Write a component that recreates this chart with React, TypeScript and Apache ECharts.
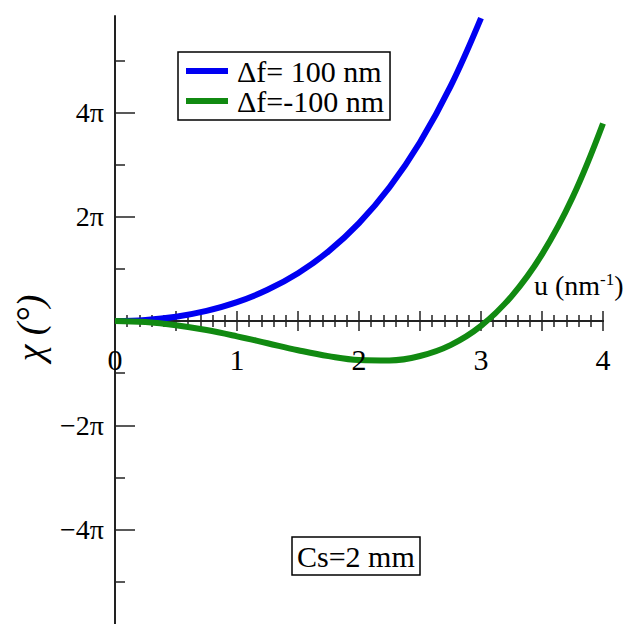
import React, { useEffect, useRef } from 'react';
import * as echarts from 'echarts';

// u in nm^-1, chi in units of pi
const uBlue = [0, 0.25, 0.5, 0.75, 1, 1.25, 1.5, 1.75, 2, 2.25, 2.5, 2.75, 3.0];
const chiBlue = [0, 0.021, 0.084, 0.196, 0.363, 0.599, 0.917, 1.336, 1.877, 2.565, 3.429, 4.499, 5.81];

const uGreen = [0, 0.25, 0.5, 0.75, 1, 1.25, 1.5, 1.75, 2, 2.25, 2.5, 2.75, 3, 3.25, 3.5, 3.75, 4];
const chiGreen = [0, -0.02, -0.08, -0.173, -0.293, -0.426, -0.559, -0.673, -0.747, -0.756, -0.671, -0.462, -0.093, 0.474, 1.279, 2.368, 3.789];

const seriesNames = ['Δf= 100 nm', 'Δf=-100 nm'];
const seriesColors = ['#0000f2', '#118a11'];

const xLabelValues = [0, 1, 2, 3, 4];
const yMajorTicks = [-4, -2, 0, 2, 4];
const yMinorTicks = [-5, -3, -1, 1, 3, 5];
const yLabelValues = [-4, -2, 2, 4];
const yTickLabels = ['−4π', '−2π', '2π', '4π'];

const FONT = "'Liberation Serif', 'Times New Roman', 'DejaVu Serif', serif";
const AX = '#222';

export default function App() {
  const ref = useRef<HTMLDivElement>(null);
  useEffect(() => {
    if (!ref.current) return;
    const chart = echarts.init(ref.current, undefined, { renderer: 'svg' });
    const xCommon = {
      type: 'value',
      min: 0,
      max: 4,
      interval: 0.5,
      splitLine: { show: false },
      minorSplitLine: { show: false },
      axisLabel: { show: false },
      axisLine: { onZero: true, onZeroAxisIndex: 0, lineStyle: { color: AX, width: 2 } },
      axisTick: { show: true, inside: false, length: 10, lineStyle: { color: AX, width: 1.5 } },
      minorTick: { show: true, splitNumber: 5, length: 6, lineStyle: { color: AX, width: 1.5 } },
    };
    const yCommon = {
      type: 'value',
      min: -5.81,
      max: 5.85,
      position: 'left',
      splitLine: { show: false },
    };
    chart.setOption({
      animation: false,
      backgroundColor: '#fff',
      grid: { left: 115, top: 16, width: 488, height: 608, outerBoundsMode: 'none', containLabel: false },
      xAxis: [
        { ...xCommon, position: 'bottom' },
        { ...xCommon, position: 'top' },
      ],
      yAxis: [
        {
          ...yCommon,
          axisLine: { onZero: false, lineStyle: { color: AX, width: 2 } },
          axisTick: { show: true, inside: true, length: 20, customValues: yMajorTicks, lineStyle: { color: AX, width: 1.5 } },
          axisLabel: {
            customValues: yLabelValues,
            formatter: (v: number) => yTickLabels[yLabelValues.indexOf(v)] ?? '',
            margin: 11,
            fontSize: 28,
            color: '#000',
            fontFamily: FONT,
          },
        },
        {
          ...yCommon,
          axisLine: { show: false, onZero: false },
          axisTick: { show: true, inside: true, length: 10, customValues: yMinorTicks, lineStyle: { color: AX, width: 1.5 } },
          axisLabel: { show: false },
        },
      ],
      legend: {
        orient: 'vertical',
        left: 178,
        top: 52,
        itemWidth: 42,
        itemHeight: 6,
        itemGap: 0,
        icon: 'rect',
        padding: [4, 6, 4, 8],
        borderColor: '#000',
        borderWidth: 1.5,
        textStyle: { fontSize: 30, fontFamily: FONT, color: '#000', padding: [0, 0, 0, 4] },
        data: seriesNames,
      },
      title: {
        text: 'Cs=2 mm',
        left: 292,
        top: 537,
        padding: [4, 5, 4, 5],
        borderColor: '#000',
        borderWidth: 1.5,
        textStyle: { fontSize: 30, fontWeight: 'normal', fontFamily: FONT, color: '#000' },
      },
      graphic: [
        {
          type: 'text',
          x: 30,
          y: 328,
          rotation: Math.PI / 2,
          style: {
            text: 'χ (°)',
            font: `italic 38px ${FONT}`,
            fill: '#000',
            align: 'center',
            verticalAlign: 'middle',
          },
        },
        {
          type: 'text',
          x: 534,
          y: 285,
          style: {
            text: '{a|u (nm}{s|-1}{a|)}',
            verticalAlign: 'middle',
            font: `28px ${FONT}`,
            rich: {
              a: { font: `28px ${FONT}`, fill: '#000' },
              s: { font: `17px ${FONT}`, fill: '#000', verticalAlign: 'top' },
            },
          },
        },
      ],
      series: [
        {
          name: seriesNames[0],
          type: 'line',
          xAxisIndex: 0,
          yAxisIndex: 0,
          data: uBlue.map((u, i) => [u, chiBlue[i]]),
          smooth: 0.4,
          showSymbol: false,
          lineStyle: { color: seriesColors[0], width: 6 },
          itemStyle: { color: seriesColors[0] },
          z: 3,
        },
        {
          name: seriesNames[1],
          type: 'line',
          xAxisIndex: 0,
          yAxisIndex: 0,
          data: uGreen.map((u, i) => [u, chiGreen[i]]),
          smooth: 0.4,
          showSymbol: false,
          lineStyle: { color: seriesColors[1], width: 6 },
          itemStyle: { color: seriesColors[1] },
          z: 4,
        },
        {
          name: 'xLabels',
          type: 'scatter',
          xAxisIndex: 0,
          yAxisIndex: 0,
          silent: true,
          data: xLabelValues.map((v) => [v, 0]),
          symbolSize: 2,
          itemStyle: { color: 'rgba(0,0,0,0)' },
          label: {
            show: true,
            position: 'bottom',
            distance: 22,
            formatter: (p: any) => String(p.value[0]),
            fontSize: 30,
            fontFamily: FONT,
            color: '#000',
            opacity: 1,
          },
          labelLayout: { hideOverlap: false },
          z: 5,
        },
      ],
    });
    return () => chart.dispose();
  }, []);
  return (
    <div
      ref={ref}
      style={{ position: 'absolute', left: 0, top: 0, width: 632, height: 624, background: '#fff' }}
    />
  );
}
